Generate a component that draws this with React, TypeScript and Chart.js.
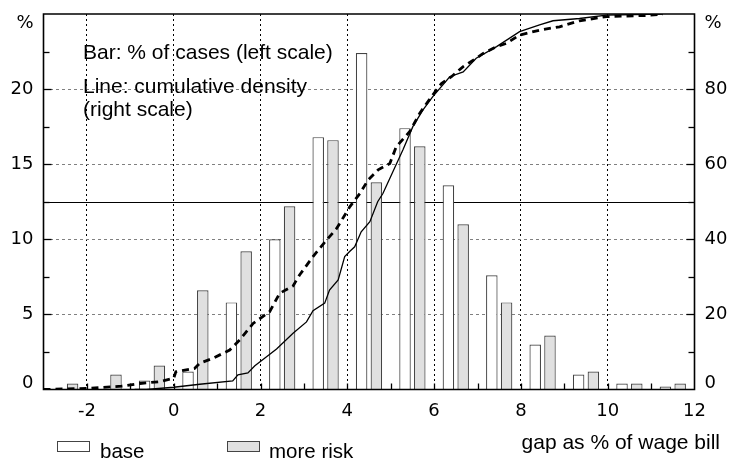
import { useEffect, useRef } from 'react';
import { Chart, registerables } from 'chart.js';

Chart.register(...registerables);

// ---- data ----
const binCenters = [-2.5, -1.5, -0.5, 0.5, 1.5, 2.5, 3.5, 4.5, 5.5, 6.5, 7.5, 8.5, 9.5, 10.5, 11.5];
const basePct = [0, 0, 0.6, 1.2, 5.8, 10.0, 16.8, 22.4, 17.4, 13.6, 7.6, 3.0, 1.0, 0.4, 0.2];
const riskPct = [0.4, 1.0, 1.6, 6.6, 9.2, 12.2, 16.6, 13.8, 16.2, 11.0, 5.8, 3.6, 1.2, 0.4, 0.4];

const baseCdfX = [-0.9, -0.63, 0, 0.6, 1.36, 1.48, 1.71, 1.87, 2.14, 2.37, 2.75, 3.06, 3.21, 3.48, 3.59, 3.79, 3.94, 4.06, 4.17, 4.32, 4.52, 4.7, 4.82, 5.05, 5.28, 5.51, 5.74, 5.97, 6.36, 6.67, 6.97, 7.44, 7.97, 8.43, 8.74, 9.35, 9.97, 11.27];
const baseCdfY = [0, 0, 0.6, 1.4, 2.3, 3.9, 4.4, 6.3, 8.7, 10.8, 15, 18, 21, 23, 26.5, 29.2, 35.4, 36.8, 38, 42, 44.7, 50, 52.2, 58, 63.8, 70, 74.4, 78, 83.3, 84.6, 88.2, 91.3, 95.3, 97.1, 98.2, 98.8, 99.7, 100];

const riskCdfX = [-3, -2, -1.2, -0.78, -0.32, 0, 0.05, 0.48, 0.6, 0.9, 1.29, 1.52, 1.83, 2.21, 2.44, 2.75, 2.9, 3.21, 3.52, 3.75, 4.06, 4.29, 4.48, 4.71, 4.98, 5.13, 5.44, 5.67, 5.94, 6.17, 6.4, 6.67, 6.97, 7.13, 7.44, 7.67, 7.97, 8.43, 8.89, 9.35, 9.97, 10.89, 11.27];
const riskCdfY = [0, 0.3, 0.9, 1.6, 2.1, 3, 4.7, 5.6, 7, 8.3, 10.5, 13.2, 17.6, 20.7, 25.6, 27.6, 30.5, 35.4, 39.8, 42.8, 48.7, 52.2, 55.8, 58.5, 60.2, 64.7, 68.7, 73.6, 78, 81.5, 83.3, 86, 88.2, 89.5, 91.3, 92.2, 94.4, 95.7, 96.6, 98.2, 99.3, 99.6, 100];

const xTickLabels = [-2, 0, 2, 4, 6, 8, 10, 12];
const leftTickLabels = [0, 5, 10, 15, 20];
const rightTickLabels = [0, 20, 40, 60, 80];
const medianLine = 50;

const seriesNames = ['base', 'more risk'];
const noteLine1 = 'Bar: % of cases (left scale)';
const noteLine2 = 'Line: cumulative density';
const noteLine3 = '(right scale)';
const xTitle = 'gap as % of wage bill';

const TICK_FONT = 'DejaVu Sans';
const TEXT_FONT = '"Liberation Sans", Arial, sans-serif';
const BAR_BORDER = '#444';
const GRAY_FILL = '#e0e0e0';
const CLEAR = 'rgba(0,0,0,0)';

const overlay = {
  id: 'overlay',
  beforeDatasetsDraw(chart: any) {
    const { ctx, chartArea: a, scales } = chart;
    const y = Math.round(scales.y2.getPixelForValue(medianLine)) + 0.5;
    ctx.save();
    ctx.strokeStyle = '#000';
    ctx.lineWidth = 1;
    ctx.beginPath();
    ctx.moveTo(a.left, y);
    ctx.lineTo(a.right, y);
    ctx.stroke();
    ctx.restore();
  },
  afterDraw(chart: any) {
    const { ctx, chartArea: a, scales } = chart;
    ctx.save();
    ctx.strokeStyle = '#000';
    ctx.lineWidth = 1.3;
    // x ticks (inward)
    for (const t of scales.x.ticks) {
      if (t.value <= -3 || t.value >= 12) continue;
      const px = Math.round(scales.x.getPixelForValue(t.value)) + 0.5;
      ctx.beginPath();
      ctx.moveTo(px, a.bottom);
      ctx.lineTo(px, a.bottom - 6);
      ctx.stroke();
    }
    // left ticks
    for (const t of scales.y.ticks) {
      if (t.value <= 0 || t.value >= 25) continue;
      const py = Math.round(scales.y.getPixelForValue(t.value)) + 0.5;
      const len = t.value % 5 === 0 ? 8 : 6;
      ctx.beginPath();
      ctx.moveTo(a.left, py);
      ctx.lineTo(a.left + len, py);
      ctx.stroke();
    }
    // right ticks
    for (const t of scales.y2.ticks) {
      if (t.value <= 0 || t.value >= 100) continue;
      const py = Math.round(scales.y2.getPixelForValue(t.value)) + 0.5;
      const len = t.value % 20 === 0 ? 8 : 6;
      ctx.beginPath();
      ctx.moveTo(a.right, py);
      ctx.lineTo(a.right - len, py);
      ctx.stroke();
    }
    // frame
    ctx.lineWidth = 1.6;
    ctx.beginPath();
    ctx.moveTo(a.left, a.top);
    ctx.lineTo(a.right, a.top);
    ctx.lineTo(a.right, a.bottom);
    ctx.lineTo(a.left, a.bottom);
    ctx.closePath();
    ctx.stroke();

    // texts
    ctx.fillStyle = '#000';
    ctx.textBaseline = 'alphabetic';
    ctx.textAlign = 'left';
    ctx.font = `21px ${TEXT_FONT}`;
    ctx.fillText(noteLine1, 83, 59);
    ctx.fillText(noteLine2, 83, 92.5);
    ctx.fillText(noteLine3, 83, 115.5);

    ctx.textAlign = 'right';
    ctx.fillText(xTitle, 720, 449);

    // legend
    ctx.textAlign = 'left';
    ctx.font = `20.5px ${TEXT_FONT}`;
    ctx.lineWidth = 1;
    ctx.strokeStyle = BAR_BORDER;
    const boxes = [
      { x: 57.5, fill: '#ffffff', text: seriesNames[0], tx: 100 },
      { x: 227.5, fill: GRAY_FILL, text: seriesNames[1], tx: 269 },
    ];
    for (const b of boxes) {
      ctx.fillStyle = b.fill;
      ctx.fillRect(b.x, 441.5, 32, 10);
      ctx.strokeRect(b.x, 441.5, 32, 10);
      ctx.fillStyle = '#000';
      ctx.fillText(b.text, b.tx, 458);
    }
    ctx.restore();
  },
};

export default function App() {
  const ref = useRef<HTMLCanvasElement | null>(null);

  useEffect(() => {
    if (!ref.current) return;
    const chart = new Chart(ref.current, {
      type: 'bar',
      data: {
        datasets: [
          {
            type: 'line',
            label: 'base cumulative',
            data: baseCdfX.map((x, i) => ({ x, y: baseCdfY[i] })),
            yAxisID: 'y2',
            borderColor: '#000',
            borderWidth: 1.3,
            pointRadius: 0,
            tension: 0,
            fill: false,
            order: 0,
          } as any,
          {
            type: 'line',
            label: 'more risk cumulative',
            data: riskCdfX.map((x, i) => ({ x, y: riskCdfY[i] })),
            yAxisID: 'y2',
            borderColor: '#000',
            borderWidth: 2.8,
            borderDash: [7, 5],
            pointRadius: 0,
            tension: 0,
            fill: false,
            order: 1,
          } as any,
          {
            type: 'bar',
            label: seriesNames[0],
            data: binCenters.map((x, i) => ({ x, y: basePct[i] })),
            yAxisID: 'y',
            backgroundColor: '#ffffff',
            borderColor: BAR_BORDER,
            borderWidth: 1.2,
            categoryPercentage: 0.68,
            barPercentage: 0.78,
            order: 2,
          } as any,
          {
            type: 'bar',
            label: seriesNames[1],
            data: binCenters.map((x, i) => ({ x, y: riskPct[i] })),
            yAxisID: 'y',
            backgroundColor: GRAY_FILL,
            borderColor: BAR_BORDER,
            borderWidth: 1.2,
            categoryPercentage: 0.68,
            barPercentage: 0.78,
            order: 3,
          } as any,
        ],
      },
      options: {
        responsive: false,
        animation: false,
        events: [],
        layout: { padding: { left: 0, right: 0, top: 14, bottom: 0 } },
        plugins: { legend: { display: false }, tooltip: { enabled: false }, title: { display: false } },
        scales: {
          x: {
            type: 'linear',
            min: -3,
            max: 12,
            offset: false,
            ticks: {
              stepSize: 1,
              autoSkip: false,
              maxRotation: 0,
              padding: 11,
              color: '#000',
              font: { family: TICK_FONT, size: 18 },
              callback: (v: any) => (xTickLabels.includes(Number(v)) ? String(v) : ''),
            },
            grid: {
              offset: false,
              drawTicks: false,
              lineWidth: 1,
              color: (c: any) => {
                const v = c.tick ? c.tick.value : NaN;
                return v > -3 && v < 12 && v % 2 === 0 ? '#000' : CLEAR;
              },
            },
            border: { display: false, dash: [2, 3] },
            afterFit: (s: any) => { s.height = 74.5; s.paddingLeft = 0; s.paddingRight = 0; },
          },
          y: {
            type: 'linear',
            position: 'left',
            min: 0,
            max: 25,
            ticks: {
              stepSize: 2.5,
              autoSkip: false,
              padding: 10,
              color: '#000',
              font: (c: any) => {
                const v = c.tick ? c.tick.value : NaN;
                if (v === 0) return { family: TICK_FONT, size: 18, lineHeight: 13 / 18 };
                if (v === 25) return { family: TICK_FONT, size: 18, lineHeight: 1 };
                return { family: TICK_FONT, size: 18 };
              },
              callback: (v: any) => {
                const n = Number(v);
                if (n === 0) return ['0', ''];
                if (n === 25) return ['', '%'];
                return leftTickLabels.includes(n) ? String(n) : '';
              },
            },
            grid: {
              drawTicks: false,
              lineWidth: 1,
              color: (c: any) => {
                const v = c.tick ? c.tick.value : NaN;
                return v > 0 && v < 25 && leftTickLabels.includes(v) ? '#808080' : CLEAR;
              },
            },
            border: { display: false, dash: [3, 3] },
            afterFit: (s: any) => { s.width = 43.5; s.paddingTop = 0; s.paddingBottom = 0; },
          },
          y2: {
            type: 'linear',
            position: 'right',
            min: 0,
            max: 100,
            ticks: {
              stepSize: 10,
              autoSkip: false,
              padding: 10,
              color: '#000',
              font: (c: any) => {
                const v = c.tick ? c.tick.value : NaN;
                if (v === 0) return { family: TICK_FONT, size: 18, lineHeight: 13 / 18 };
                if (v === 100) return { family: TICK_FONT, size: 18, lineHeight: 1 };
                return { family: TICK_FONT, size: 18 };
              },
              callback: (v: any) => {
                const n = Number(v);
                if (n === 0) return ['0', ''];
                if (n === 100) return ['', '%'];
                return rightTickLabels.includes(n) ? String(n) : '';
              },
            },
            grid: { display: false, drawTicks: false },
            border: { display: false },
            afterFit: (s: any) => { s.width = 35.5; s.paddingTop = 0; s.paddingBottom = 0; },
          },
        },
      } as any,
      plugins: [overlay],
    });
    return () => chart.destroy();
  }, []);

  return (
    <div style={{ position: 'absolute', left: 0, top: 0, width: 730, height: 464 }}>
      <canvas ref={ref} width={730} height={464} style={{ display: 'block' }} />
    </div>
  );
}
